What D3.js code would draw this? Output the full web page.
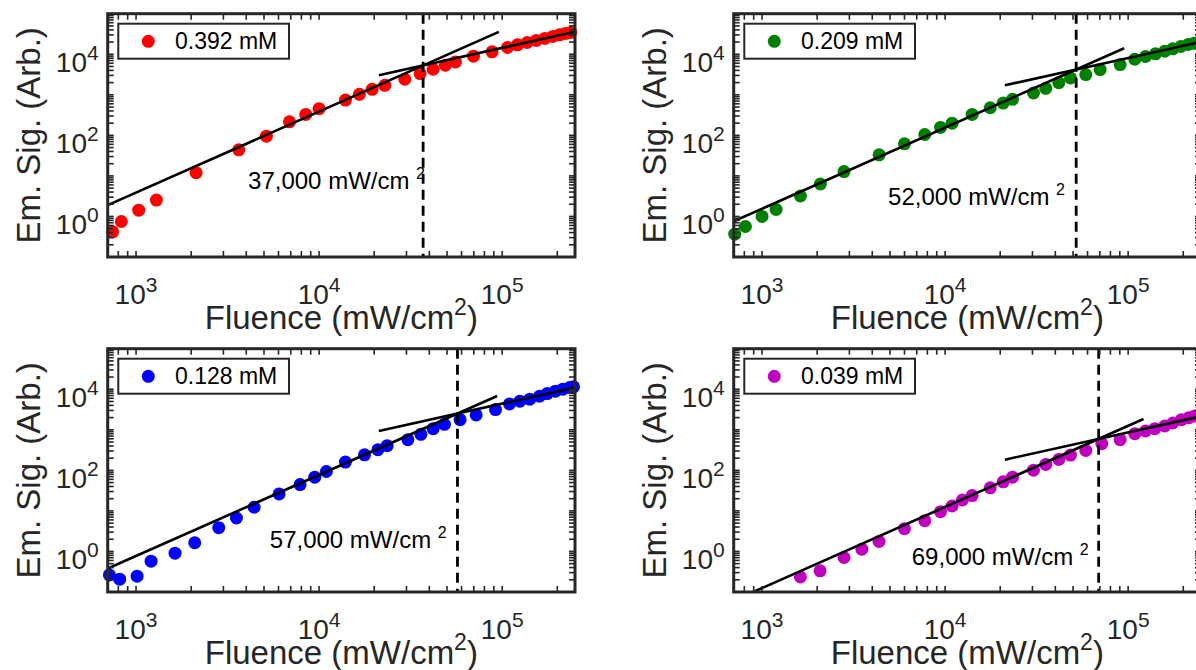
<!DOCTYPE html>
<html>
<head>
<meta charset="utf-8">
<script src="https://cdn.jsdelivr.net/npm/d3@7"></script>
<style>
  body { margin: 0; background: #fff; }
  svg { display: block; }
  text { font-family: "Liberation Sans", Arial, Helvetica, sans-serif; }
</style>
</head>
<body>
<svg id="chart" width="1196" height="670"></svg>
<script>
// ---- measured series: fluence (mW/cm^2) and emission signal (arb.) ----
const concentrations = ["0.392 mM", "0.209 mM", "0.128 mM", "0.039 mM"];

const fluence392 = [745, 831, 1034, 1292, 2128, 3640, 5152, 6885, 8453, 10000, 13930, 16600, 19490, 22850, 29400, 35630, 41980, 48980, 55580, 69700, 88100, 106900, 121300, 137000, 153500, 171000, 189200, 205700, 221800, 237200];
const signal392  = [0.417, 0.75, 1.43, 2.54, 12.0, 43.9, 95.5, 216, 329, 454, 743, 1027, 1366, 1715, 2415, 3335, 4270, 5360, 6480, 8960, 11460, 14680, 17100, 19500, 21900, 24500, 27500, 30200, 32600, 34500];

const fluence209 = [709, 811, 1000, 1193, 1620, 2083, 2805, 4360, 5995, 7745, 9440, 10920, 14050, 17640, 20760, 23340, 30390, 35480, 41800, 48400, 58700, 70300, 90400, 108700, 124400, 141000, 158500, 175300, 194000, 212800, 229500, 246500];
const signal209  = [0.365, 0.565, 1.0, 1.49, 3.19, 6.31, 12.8, 33.0, 61.7, 105, 157, 200, 329, 480, 626, 772, 1109, 1446, 1995, 2606, 3150, 4190, 5570, 7550, 8790, 10230, 11920, 13620, 15530, 17420, 18800, 20300];

const fluence128 = [715, 814, 1013, 1208, 1633, 2092, 2830, 3535, 4415, 6045, 7870, 9470, 10960, 13930, 17700, 20940, 23550, 30540, 35970, 41980, 48400, 58900, 72100, 92000, 109700, 125000, 141600, 160000, 176200, 195500, 214600, 233500, 245400];
const signal128  = [0.264, 0.207, 0.245, 0.576, 0.909, 1.64, 3.85, 6.68, 12.3, 26.2, 44.7, 67.9, 93.7, 160, 242, 322, 405, 570, 772, 1067, 1366, 1782, 2325, 3150, 4350, 5070, 5680, 6730, 7840, 8960, 10040, 11040, 11460];

const fluence039 = [1620, 2075, 2805, 3508, 4356, 5995, 7745, 9440, 10920, 12440, 14050, 17640, 20760, 23340, 30390, 35480, 41800, 48400, 58700, 71800, 90400, 108700, 124400, 139900, 158500, 175300, 195500, 214600, 231200, 246500];
const signal039  = [0.236, 0.332, 0.71, 1.14, 1.77, 3.64, 5.74, 9.59, 13.2, 18.6, 23.9, 37.0, 52.0, 67.9, 101, 140, 186, 238, 310, 454, 570, 802, 933, 1067, 1241, 1473, 1782, 1995, 2197, 2370];

// ---- power-law fits: quadratic below the knee, linear above ----
const thresholds      = [37000, 52000, 57000, 69000];
const thresholdSignal = [5300, 4200, 2510, 596];
const slopeLow        = [2, 2, 2, 2];
const slopeHigh       = [1, 1, 1, 1];
const fitLowEnd       = [95900, 95100, 93900, 121300];
const fitHighStart    = [21200, 21200, 21200, 21200];
const thresholdLabels = ["37,000", "52,000", "57,000", "69,000"];
const labelFluence    = [37900, 45200, 49800, 60900];
const labelSignal     = [4.7, 1.9, 1.2, 0.46];

// ---- axes ----
const xDomain = [700, 2.5e5];
const yDomain = [0.1, 1e5];
const xTickExps = [3, 4, 5];
const yTickExps = [0, 2, 4];

const series = [
  { fluence: fluence392, signal: signal392 },
  { fluence: fluence209, signal: signal209 },
  { fluence: fluence128, signal: signal128 },
  { fluence: fluence039, signal: signal039 }
];

// ---- layout & style ----
const markerColors = ["#ff0000", "#008000", "#0000ff", "#bf00bf"];
const origins = [[107.7, 13.7], [733.7, 13.7], [107.7, 348.7], [733.7, 348.7]];
const boxW = 467.3, boxH = 243.3;
const axisColor = "#262626";
const tickLen = 6;

const svg = d3.select("#chart");

series.forEach((s, i) => {
  const [ox, oy] = origins[i];
  const x = d3.scaleLog().domain(xDomain).range([0, boxW]);
  const y = d3.scaleLog().domain(yDomain).range([boxH, 0]);
  const g = svg.append("g").attr("transform", `translate(${ox},${oy})`);

  const clipId = "clip" + i;
  g.append("clipPath").attr("id", clipId)
    .append("rect").attr("width", boxW).attr("height", boxH);

  // data points
  g.append("g").selectAll("circle")
    .data(d3.zip(s.fluence, s.signal))
    .join("circle")
    .attr("cx", d => x(d[0]))
    .attr("cy", d => y(d[1]))
    .attr("r", 6.5)
    .attr("fill", markerColors[i]);

  // fit lines
  const x0 = thresholds[i], y0 = thresholdSignal[i];
  const lowFit = f => y0 * Math.pow(f / x0, slopeLow[i]);
  const highFit = f => y0 * Math.pow(f / x0, slopeHigh[i]);
  const fitG = g.append("g").attr("clip-path", `url(#${clipId})`);
  const line = d3.line().x(d => x(d[0])).y(d => y(d[1]));
  fitG.append("path")
    .attr("d", line([[xDomain[0], lowFit(xDomain[0])], [fitLowEnd[i], lowFit(fitLowEnd[i])]]))
    .attr("stroke", "#000").attr("stroke-width", 2.6).attr("fill", "none");
  fitG.append("path")
    .attr("d", line([[fitHighStart[i], highFit(fitHighStart[i])], [xDomain[1], highFit(xDomain[1])]]))
    .attr("stroke", "#000").attr("stroke-width", 2.6).attr("fill", "none");

  // threshold marker
  g.append("line")
    .attr("x1", x(x0)).attr("x2", x(x0))
    .attr("y1", 0).attr("y2", boxH)
    .attr("stroke", "#000").attr("stroke-width", 2.8)
    .attr("stroke-dasharray", "10,6");

  const ann = g.append("text")
    .attr("x", x(labelFluence[i]))
    .attr("y", y(labelSignal[i]))
    .attr("text-anchor", "end")
    .attr("font-size", 24)
    .attr("fill", "#000");
  ann.append("tspan").text(thresholdLabels[i] + " mW/cm ");
  ann.append("tspan").attr("font-size", 16).attr("dy", -10).text("2");

  // minor + major ticks on all four sides
  const xTicks = [];
  for (let e = 2; e <= 5; e++) for (let m = 1; m <= 9; m++) {
    const v = m * Math.pow(10, e);
    if (v >= xDomain[0] && v <= xDomain[1]) xTicks.push(v);
  }
  const yTicks = [];
  for (let e = -1; e <= 5; e++) for (let m = 1; m <= 9; m++) {
    const v = m * Math.pow(10, e);
    if (v >= yDomain[0] && v <= yDomain[1]) yTicks.push(v);
  }
  const tg = g.append("g").attr("stroke", axisColor).attr("stroke-width", 1.6);
  xTicks.forEach(v => {
    tg.append("line").attr("x1", x(v)).attr("x2", x(v)).attr("y1", boxH).attr("y2", boxH - tickLen);
    tg.append("line").attr("x1", x(v)).attr("x2", x(v)).attr("y1", 0).attr("y2", tickLen);
  });
  yTicks.forEach(v => {
    tg.append("line").attr("x1", 0).attr("x2", tickLen).attr("y1", y(v)).attr("y2", y(v));
    tg.append("line").attr("x1", boxW).attr("x2", boxW - tickLen).attr("y1", y(v)).attr("y2", y(v));
  });

  // axes box
  g.append("rect")
    .attr("width", boxW).attr("height", boxH)
    .attr("fill", "none").attr("stroke", axisColor).attr("stroke-width", 3);

  // tick labels
  xTickExps.forEach(e => {
    const t = g.append("text")
      .attr("x", x(Math.pow(10, e)))
      .attr("y", boxH + 47.5)
      .attr("text-anchor", "middle")
      .attr("font-size", 28)
      .attr("fill", axisColor);
    t.append("tspan").text("10");
    t.append("tspan").attr("font-size", 21).attr("dy", -12).text(e);
  });
  yTickExps.forEach(e => {
    const t = g.append("text")
      .attr("x", -9)
      .attr("y", y(Math.pow(10, e)) + 18)
      .attr("text-anchor", "end")
      .attr("font-size", 28)
      .attr("fill", axisColor);
    t.append("tspan").text("10");
    t.append("tspan").attr("font-size", 21).attr("dy", -12).text(e);
  });

  // axis titles
  const xl = g.append("text")
    .attr("x", boxW / 2)
    .attr("y", boxH + 72)
    .attr("text-anchor", "middle")
    .attr("font-size", 33)
    .attr("fill", axisColor);
  xl.append("tspan").text("Fluence (mW/cm");
  xl.append("tspan").attr("font-size", 23).attr("dy", -14).text("2");
  xl.append("tspan").attr("dy", 14).text(")");

  g.append("text")
    .attr("transform", `translate(${-68},${boxH / 2}) rotate(-90)`)
    .attr("text-anchor", "middle")
    .attr("font-size", 33)
    .attr("fill", axisColor)
    .text("Em. Sig. (Arb.)");

  // legend
  const lg = g.append("g").attr("transform", "translate(10.6,10)");
  lg.append("rect")
    .attr("width", 170.7).attr("height", 35)
    .attr("fill", "#fff").attr("stroke", axisColor).attr("stroke-width", 2);
  lg.append("circle").attr("cx", 30).attr("cy", 17.6).attr("r", 6.5).attr("fill", markerColors[i]);
  lg.append("text")
    .attr("x", 56.7).attr("y", 25.5)
    .attr("font-size", 23)
    .attr("fill", "#000")
    .text(concentrations[i]);
});
</script>
</body>
</html>
